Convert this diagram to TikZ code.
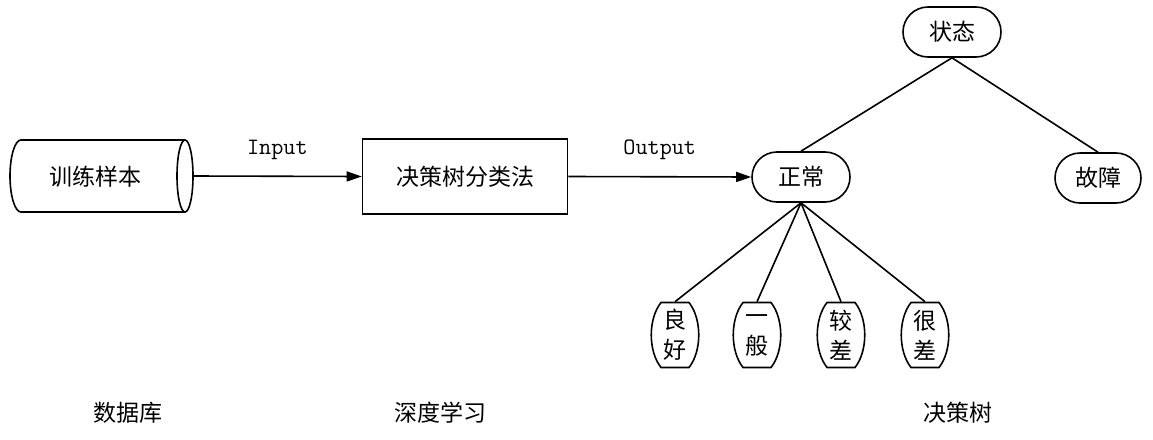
\documentclass[tikz,border=0pt]{standalone}
\usepackage{fontspec}
\newfontfamily\cjk{Noto Sans CJK SC}
\usetikzlibrary{shapes.misc,arrows.meta}
\newcommand\leafpath[1]{\draw ([shift={(-14,-32.5)}]#1.center) -- ([shift={(14,-32.5)}]#1.center) .. controls ([shift={(27,-16)}]#1.center) and ([shift={(27,16)}]#1.center) .. ([shift={(14,32.5)}]#1.center) -- ([shift={(-14,32.5)}]#1.center) .. controls ([shift={(-27,16)}]#1.center) and ([shift={(-27,-16)}]#1.center) .. cycle;}
\begin{document}
\begin{tikzpicture}[x=1pt,y=-1pt,line width=1.6pt,
  lbl/.style={font=\cjk\fontsize{23}{26}\selectfont,inner sep=0pt},
  io/.style={font=\ttfamily\fontsize{23.5}{24}\selectfont,inner sep=0pt},
  pill/.style={draw,rounded rectangle,minimum height=50pt,font=\cjk\fontsize{23}{26}\selectfont,inner sep=0pt},
  leaf/.style={minimum width=48pt,minimum height=65pt,inner sep=0pt,align=center,font=\cjk\fontsize{23}{30}\selectfont},
  box/.style={draw,minimum width=205pt,minimum height=75pt,font=\cjk\fontsize{23}{26}\selectfont,inner sep=0pt},
  arr/.style={-{Triangle[length=15pt,width=10pt]}}]
\useasboundingbox (0,0) rectangle (1153,439);
% cylinder
\draw (21,140) arc[start angle=270,end angle=90,x radius=11,y radius=36] -- (185,212);
\draw (21,140) -- (185,140);
\draw (185,176) ellipse[x radius=8,y radius=36];
\node[lbl] (db) at (95,177) {训练样本};
\coordinate (dbe) at (193,176);
% box
\node[box] (cls) at (465,176.5) {决策树分类法};
% tree
\node[pill,minimum width=98pt] (zc) at (801,177) {正常};
\node[pill,minimum width=98pt] (zt) at (952,32) {状态};
\node[pill,minimum width=86pt] (gz) at (1098,178) {故障};
\node[leaf] (l1) at (675,335) {良\\好};
\node[leaf] (l2) at (757,335) {一\\般};
\node[leaf] (l3) at (841,335) {较\\差};
\node[leaf] (l4) at (925,335) {很\\差};
\leafpath{l1}\leafpath{l2}\leafpath{l3}\leafpath{l4}
% connectors
\draw[arr] (dbe) -- node[io,above=16pt] (in) {Input} (cls.west);
\draw[arr] (cls.east) -- node[io,above=16pt] (out) {Output} (zc.west);
\draw (zt.south) -- (zc.north);
\draw (zt.south) -- (gz.north);
\foreach \l in {l1,l2,l3,l4} \draw (zc.south) -- (\l.north);
% bottom labels
\node[lbl] (b1) at (128,413) {数据库};
\node[lbl] (b2) at (440,413) {深度学习};
\node[lbl] (b3) at (958,413) {决策树};
\end{tikzpicture}
\end{document}
